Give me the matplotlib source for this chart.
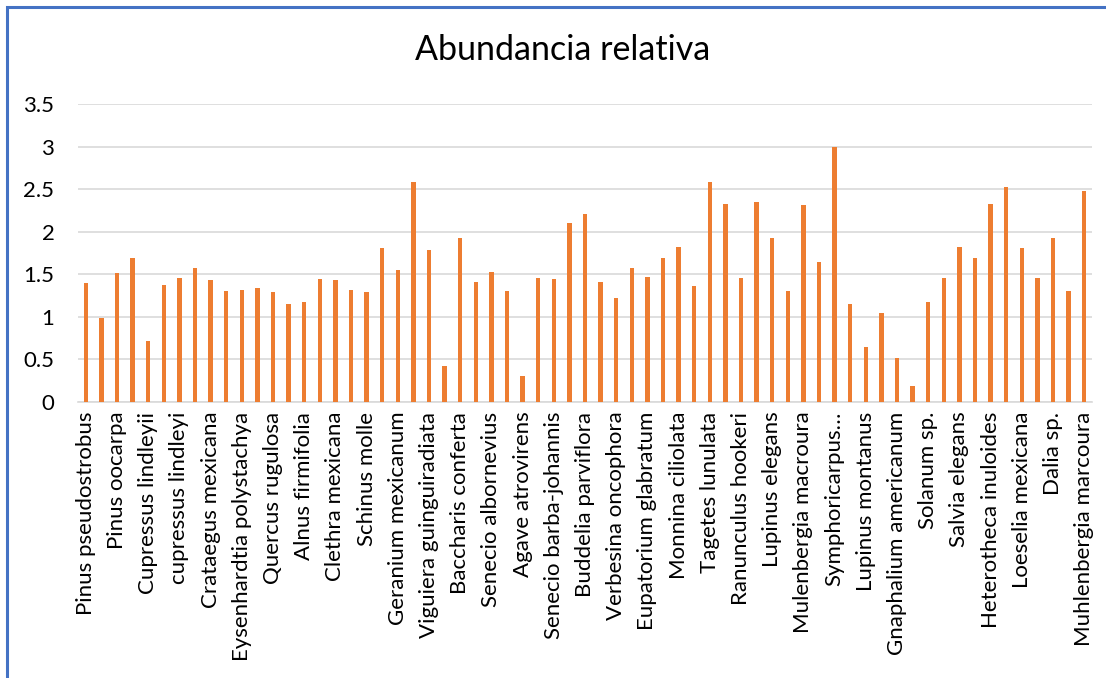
import matplotlib
matplotlib.use("Agg")
import matplotlib.pyplot as plt
from matplotlib.patches import Rectangle

title = "Abundancia relativa"

# Visible category labels (Excel shows every other category)
labels = [
    "Pinus pseudostrobus", "Pinus oocarpa", "Cupressus lindleyii", "cupressus lindleyi",
    "Crataegus mexicana", "Eysenhardtia polystachya", "Quercus rugulosa", "Alnus firmifolia",
    "Clethra mexicana", "Schinus molle", "Geranium mexicanum", "Viguiera guinguiradiata",
    "Baccharis conferta", "Senecio albornevius", "Agave atrovirens", "Senecio barba-johannis",
    "Buddelia parviflora", "Verbesina oncophora", "Eupatorium glabratum", "Monnina ciliolata",
    "Tagetes lunulata", "Ranunculus hookeri", "Lupinus elegans", "Mulenbergia macroura",
    "Symphoricarpus…", "Lupinus montanus", "Gnaphalium americanum", "Solanum sp.",
    "Salvia elegans", "Heterotheca inuloides", "Loeselia mexicana", "Dalia sp.",
    "Muhlenbergia marcoura",
]

values = [
    1.40, 0.99, 1.52, 1.69, 0.72, 1.38, 1.46, 1.57, 1.43, 1.30,
    1.32, 1.34, 1.29, 1.15, 1.18, 1.44, 1.43, 1.31, 1.29, 1.81,
    1.55, 2.58, 1.78, 0.42, 1.93, 1.41, 1.53, 1.30, 0.30, 1.46,
    1.44, 2.10, 2.21, 1.41, 1.22, 1.57, 1.47, 1.69, 1.82, 1.36,
    2.58, 2.33, 1.46, 2.35, 1.93, 1.30, 2.31, 1.64, 3.00, 1.15,
    0.65, 1.04, 0.52, 0.19, 1.17, 1.46, 1.82, 1.69, 2.33, 2.52,
    1.81, 1.46, 1.93, 1.30, 2.48,
]

yticks = [0, 0.5, 1, 1.5, 2, 2.5, 3, 3.5]
ytick_labels = ["0", "0.5", "1", "1.5", "2", "2.5", "3", "3.5"]

plt.rcParams['font.family'] = ['Lato', 'DejaVu Sans']

fig = plt.figure(figsize=(11.06, 6.78), dpi=100)
# blue chart border (left/top visible)
fig.patches.append(Rectangle((7/1106, -0.05), 1.2, (1 - 6.5/678) + 0.05,
                             transform=fig.transFigure, fill=False,
                             edgecolor="#4472C4", linewidth=2.2))

ax = fig.add_axes([78/1106, 1 - 402/678, (1092 - 78)/1106, (402 - 104)/678])
x = list(range(len(values)))
ax.bar(x, values, width=0.27, color="#ED7D31", zorder=3)

ax.set_xlim(-0.5, len(values) - 0.5)
ax.set_ylim(0, 3.5)
ax.set_yticks(yticks)
ax.set_yticklabels(ytick_labels, fontsize=16)
ax.set_xticks(x[::2])
ax.set_xticklabels(labels, rotation=90, fontsize=16)
ax.tick_params(axis='both', length=0, colors="black")
ax.tick_params(axis='y', pad=17)
ax.tick_params(axis='x', pad=7)
ax.grid(axis='y', color="#D9D9D9", linewidth=1.2, zorder=0)
for s in ["top", "right", "left"]:
    ax.spines[s].set_visible(False)
ax.spines["bottom"].set_color("#D9D9D9")
ax.spines["bottom"].set_linewidth(1.2)

fig.text(0.509, 1 - 50/678, title, ha="center", va="center", fontsize=24.5)

fig.savefig("out.png", dpi=100)
